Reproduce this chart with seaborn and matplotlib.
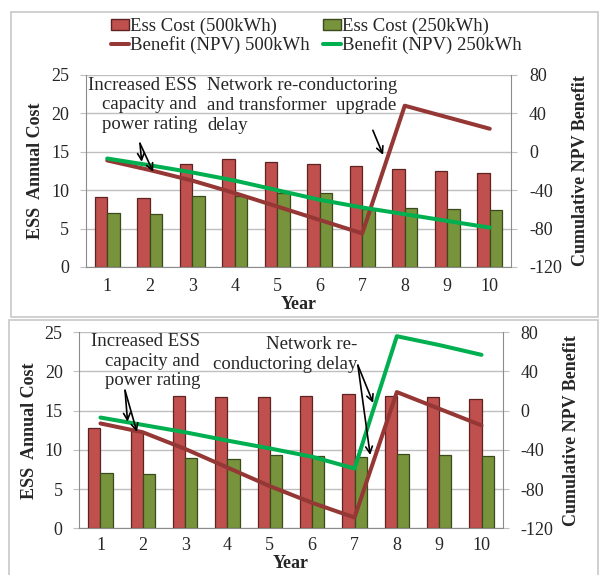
import numpy as np
import pandas as pd
import matplotlib.pyplot as plt
import seaborn as sns
from matplotlib.patches import Patch, Rectangle
from matplotlib.lines import Line2D

YEARS = ["1", "2", "3", "4", "5", "6", "7", "8", "9", "10"]

# upper panel: network re-conductoring and transformer upgrade delay
ESS_500_A = [9.1, 9.0, 13.4, 14.0, 13.7, 13.4, 13.1, 12.7, 12.5, 12.2]
ESS_250_A = [7.0, 6.9, 9.2, 9.3, 9.6, 9.7, 7.6, 7.7, 7.5, 7.4]
NPV_500_A = [-9, -19, -30, -43, -57, -71, -85, 48, 36, 24]
NPV_250_A = [-7, -14, -21.5, -30, -40, -50, -58, -65, -72, -79]

# lower panel: network re-conductoring delay
ESS_500_B = [12.8, 12.4, 16.9, 16.8, 16.8, 16.9, 17.1, 16.9, 16.7, 16.5]
ESS_250_B = [7.0, 6.9, 9.0, 8.9, 9.35, 9.25, 9.1, 9.5, 9.35, 9.2]
NPV_500_B = [-13, -22, -39, -58, -77, -94, -109, 19, 2, -15]
NPV_250_B = [-7, -14.5, -22, -30.5, -38.5, -47, -59, 76, 67, 57]

LABELS = ["Ess Cost (500kWh)", "Ess Cost (250kWh)",
          "Benefit (NPV) 500kWh", "Benefit (NPV) 250kWh"]

RED_BAR = "#C0504D"
GREEN_BAR = "#77933C"
RED_LINE = "#953735"
GREEN_LINE = "#00B050"
GRID = "#BFBFBF"
AXIS = "#8C8C8C"
FS = 13.5


def draw_panel(ax, ess500, ess250, npv500, npv250, xpad):
	df = pd.DataFrame({
		"Year": YEARS * 2,
		"Series": [LABELS[0]] * len(YEARS) + [LABELS[1]] * len(YEARS),
		"Cost": ess500 + ess250,
	})
	sns.barplot(data=df, x="Year", y="Cost", hue="Series", ax=ax,
	            palette=[RED_BAR, GREEN_BAR], saturation=1, width=0.58,
	            legend=False, linewidth=0.9)
	for bar in ax.containers[0]:
		bar.set_edgecolor("#5E2220")
	for bar in ax.containers[1]:
		bar.set_edgecolor("#3B4A1C")

	ax.set_ylim(0, 25)
	ax.set_yticks(range(0, 26, 5))
	ax.grid(axis="y", color=GRID, linewidth=1)
	ax.set_axisbelow(True)
	ax.set_xticks(range(len(YEARS)))
	ax.set_xticklabels(YEARS)
	ax.set_xticks(np.arange(-0.5, len(YEARS), 1), minor=True)
	ax.tick_params(axis="x", which="major", length=0, pad=xpad, labelsize=13)
	ax.tick_params(axis="x", which="minor", length=5, color=AXIS, width=1)
	ax.tick_params(axis="y", length=4, color=GRID, pad=8, labelsize=13, left=True)
	ax.set_ylabel("ESS  Annual Cost", fontsize=13, fontweight="bold", labelpad=5)
	ax.set_xlabel("Year", fontsize=13, fontweight="bold", labelpad=1)
	for side in ["top", "right"]:
		ax.spines[side].set_visible(False)
	ax.spines["left"].set_color(AXIS)
	ax.spines["bottom"].set_color(AXIS)

	ax2 = ax.twinx()
	pos = np.arange(len(YEARS))
	sns.lineplot(x=pos, y=npv500, ax=ax2, color=RED_LINE, linewidth=2.9)
	sns.lineplot(x=pos, y=npv250, ax=ax2, color=GREEN_LINE, linewidth=2.9)
	ax2.set_ylim(-120, 80)
	ax2.set_yticks(range(-120, 81, 40))
	ax2.tick_params(axis="y", length=4, color=GRID, pad=9, labelsize=13, right=True)
	ax2.set_ylabel("Cumulative NPV Benefit", fontsize=13, fontweight="bold", labelpad=7)
	for side in ["top", "left", "bottom"]:
		ax2.spines[side].set_visible(False)
	ax2.spines["right"].set_color(AXIS)
	ax.set_xlim(-0.5, len(YEARS) - 0.5)
	return ax2


def arrow(ax2, ax, start, end):
	ax2.annotate("", xy=end, xytext=start, xycoords=ax.transData,
	             textcoords=ax.transData,
	             arrowprops=dict(arrowstyle="->", color="black", lw=1.2,
	                             shrinkA=0, shrinkB=0, mutation_scale=12))


def note(ax2, ax, x, y, text, ha):
	ax2.text(x, y, text, transform=ax.transData, ha=ha, va="top",
	         fontsize=FS, multialignment=ha, linespacing=1.2)


def main():
	sns.set_style("white")
	plt.rcParams["font.family"] = ["Liberation Serif", "DejaVu Serif"]
	plt.rcParams["axes.unicode_minus"] = False

	fig = plt.figure(figsize=(6.05, 5.75), dpi=100)
	fig.add_artist(Rectangle((11 / 605, 1 - 317 / 575), 587 / 605, 305 / 575,
	                         transform=fig.transFigure, fill=False, ec="#C8C8C8", lw=1.2))
	fig.add_artist(Rectangle((9 / 605, 1 - 580 / 575), 589 / 605, 260 / 575,
	                         transform=fig.transFigure, fill=False, ec="#C8C8C8", lw=1.2))

	ax_a = fig.add_axes([86 / 605, 1 - 267 / 575, 425 / 605, 192 / 575])
	ax_b = fig.add_axes([79.3 / 605, 1 - 528.3 / 575, 423.4 / 605, 196 / 575])

	ax2_a = draw_panel(ax_a, ESS_500_A, ESS_250_A, NPV_500_A, NPV_250_A, 8)
	ax2_b = draw_panel(ax_b, ESS_500_B, ESS_250_B, NPV_500_B, NPV_250_B, 6)

	note(ax2_a, ax_a, 2.11, 24.8, "Increased ESS\ncapacity and\npower rating", "right")
	note(ax2_a, ax_a, 2.35, 24.8,
	     "Network re-conductoring\nand transformer  upgrade\ndelay", "left")
	arrow(ax2_a, ax_a, (0.77, 16.1), (0.81, 13.7))
	arrow(ax2_a, ax_a, (0.77, 16.1), (1.08, 12.4))
	arrow(ax2_a, ax_a, (6.25, 17.8), (6.49, 14.6))

	note(ax2_b, ax_b, 2.35, 24.9, "Increased ESS\ncapacity and\npower rating", "right")
	note(ax2_b, ax_b, 6.06, 24.5, "Network re-\nconductoring delay", "right")
	arrow(ax2_b, ax_b, (0.58, 17.6), (0.64, 13.6))
	arrow(ax2_b, ax_b, (0.58, 17.6), (0.86, 12.3))
	arrow(ax2_b, ax_b, (6.08, 20.8), (6.44, 16.0))
	arrow(ax2_b, ax_b, (6.08, 20.8), (6.37, 9.35))

	handles = [Patch(facecolor=RED_BAR, edgecolor="#5E2220", label=LABELS[0]),
	           Line2D([], [], color=RED_LINE, lw=2.9, label=LABELS[2]),
	           Patch(facecolor=GREEN_BAR, edgecolor="#3B4A1C", label=LABELS[1]),
	           Line2D([], [], color=GREEN_LINE, lw=2.9, label=LABELS[3])]
	fig.legend(handles=handles, ncol=2, loc="center left",
	           bbox_to_anchor=(111 / 605, 1 - 36 / 575), frameon=False,
	           fontsize=FS, handlelength=0.95, handleheight=0.55,
	           handletextpad=0.08, columnspacing=0.7, labelspacing=0.04,
	           borderpad=0, borderaxespad=0)

	fig.savefig("out.png", dpi=100)


if __name__ == "__main__":
	main()
